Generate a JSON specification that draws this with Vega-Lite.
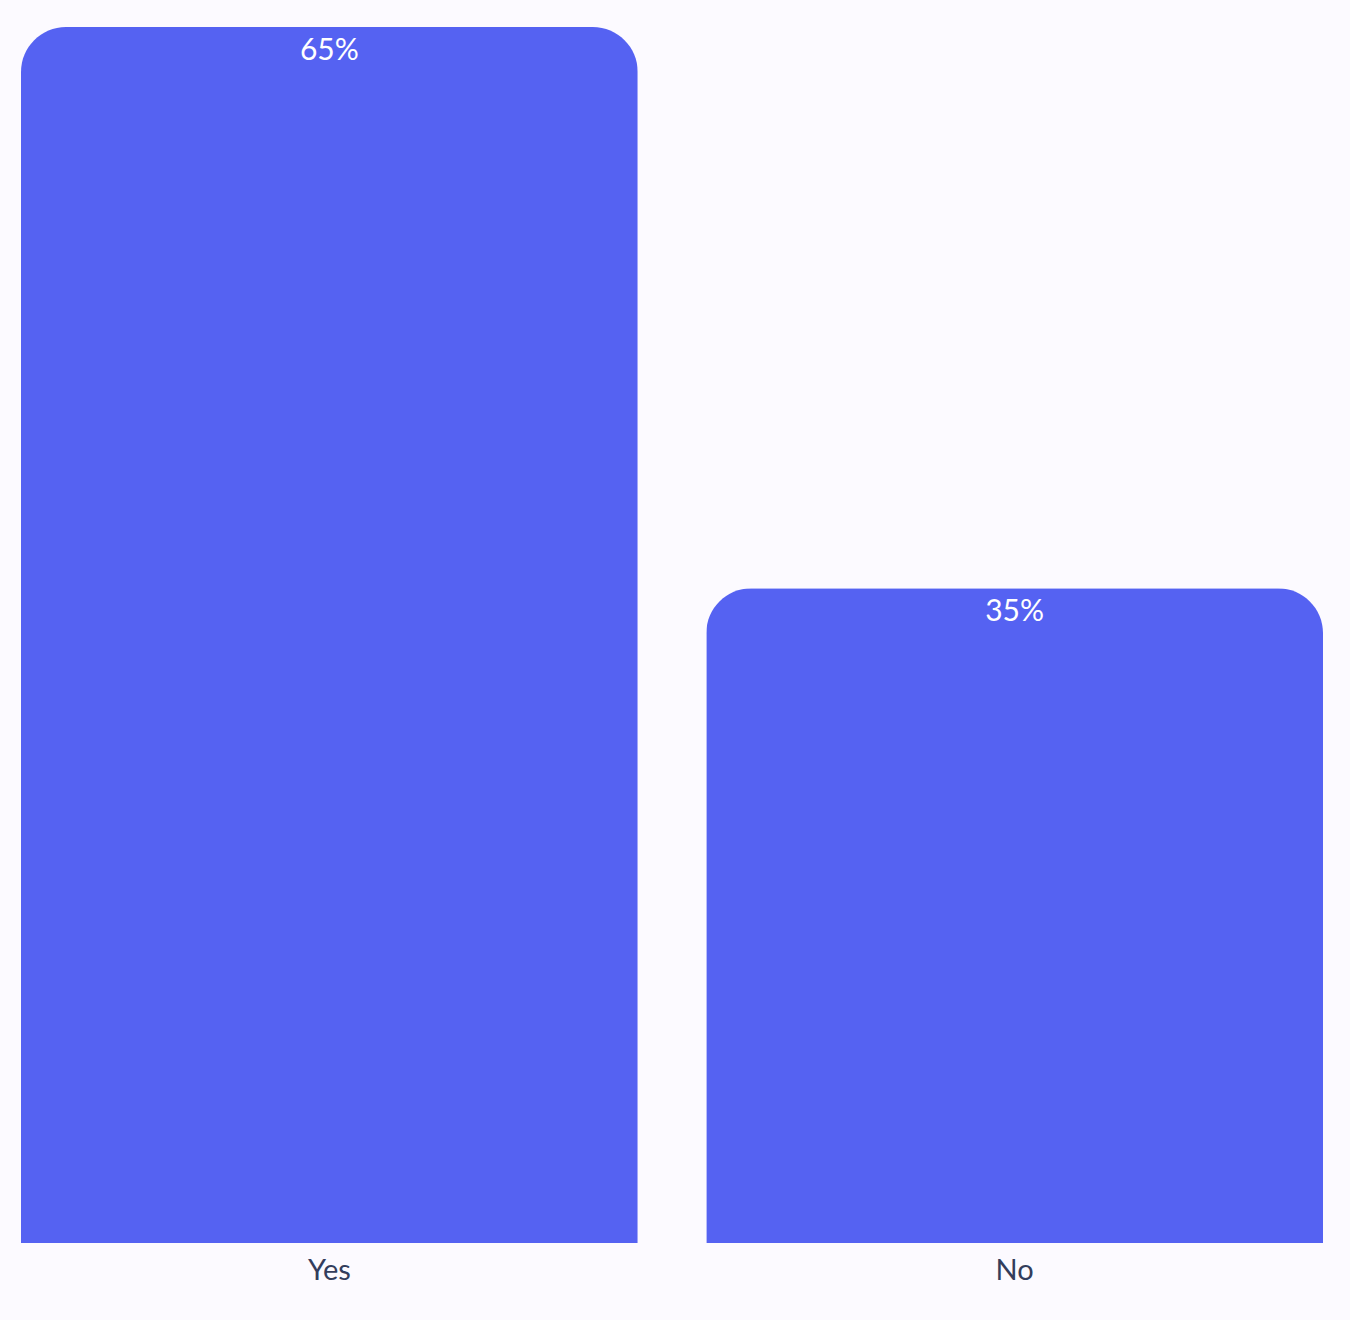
{
  "$schema": "https://vega.github.io/schema/vega-lite/v6.json",
  "autosize": {"type": "none"},
  "padding": {"left": 21, "top": 27, "right": 27, "bottom": 77},
  "width": 1302,
  "height": 1216,
  "background": "#FCFAFF",
  "config": {"view": {"stroke": null}},
  "data": {"values": [
    {"answer": "Yes", "share": 0.65},
    {"answer": "No", "share": 0.35}
  ]},
  "encoding": {
    "x": {"field": "answer", "type": "nominal", "sort": null,
      "scale": {"paddingInner": 0.1, "paddingOuter": 0},
      "axis": {"title": null, "ticks": false, "domain": false, "labelAngle": 0,
        "labelFont": "Lato", "labelFontSize": 29, "labelColor": "#333D5C", "labelPadding": 13}},
    "y": {"field": "share", "type": "quantitative", "scale": {"domain": [0, 0.65], "nice": false}, "axis": null}
  },
  "layer": [
    {"mark": {"type": "bar", "color": "#5562F2", "cornerRadiusTopLeft": 45, "cornerRadiusTopRight": 45}},
    {"mark": {"type": "text", "color": "#FFFFFF", "font": "Lato", "fontSize": 30, "baseline": "middle", "dy": 24},
     "encoding": {"text": {"field": "share", "type": "quantitative", "format": ".0%"}}}
  ]
}
